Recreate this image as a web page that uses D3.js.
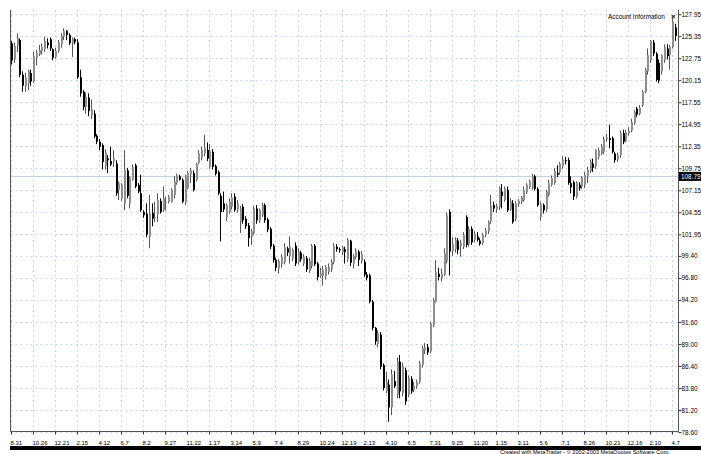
<!DOCTYPE html>
<html>
<head>
<meta charset="utf-8">
<script src="https://cdn.jsdelivr.net/npm/d3@7"></script>
<style>
  body { margin: 0; background: #fff; }
  text { font-family: "Liberation Sans", Arial, sans-serif; }
</style>
</head>
<body>
<script>
// weekly bars, values
const opens = [
  124.5,122.6,124.3,124.9,120.8,119.4,119.8,121.0,120.0,122.8,123.2,123.6,123.8,124.6,125.0,123.8,122.9,123.6,124.4,125.3,
  126.0,125.5,124.5,125.0,124.6,120.5,118.8,117.0,118.1,116.0,116.2,113.6,112.9,112.5,110.0,110.9,110.6,110.5,110.3,107.2,
  106.2,105.6,109.5,105.6,108.4,110.1,107.8,106.8,104.6,104.4,101.7,104.5,103.9,104.3,105.9,104.8,105.7,105.8,105.8,106.6,
  108.0,108.8,108.4,105.7,107.4,109.0,109.2,108.4,110.4,111.0,111.5,111.9,109.9,111.7,110.0,109.3,106.5,105.6,104.0,104.6,
  105.2,106.4,104.9,103.4,105.2,103.8,103.0,101.7,102.1,105.0,103.6,104.2,105.4,103.7,102.6,100.6,98.9,97.9,98.4,98.7,
  100.3,99.4,99.1,100.6,98.7,99.8,98.5,99.1,97.6,98.2,100.6,98.5,97.0,97.0,97.0,97.5,97.8,98.7,100.5,100.2,
  99.8,100.2,99.0,101.2,98.5,99.3,99.9,98.8,98.7,97.2,97.1,94.0,90.9,89.0,90.1,86.5,83.4,84.2,81.5,84.6,
  83.0,86.9,83.2,85.9,83.0,84.9,83.6,84.0,84.5,86.5,88.2,88.6,88.1,91.2,94.0,97.3,96.8,97.2,98.8,104.6,
  100.0,100.2,101.2,100.6,100.5,104.0,100.8,102.6,101.3,101.7,101.2,100.9,101.9,102.3,103.5,105.4,104.9,105.2,107.0,106.0,
  107.2,104.9,105.6,103.8,105.5,105.8,106.0,106.9,107.5,107.4,108.8,107.3,104.0,105.4,104.9,106.6,107.8,108.0,109.2,109.3,
  110.0,110.7,110.7,108.0,108.1,106.4,107.8,107.6,107.8,108.8,109.4,110.3,110.0,111.1,111.5,111.7,113.2,113.3,113.3,111.5,
  110.8,111.3,113.9,113.0,113.9,114.2,115.1,116.8,116.2,117.2,118.8,121.2,122.5,124.6,123.3,122.2,121.2,122.5,123.9,123.1,
  124.1,126.4
];
const highs = [
  124.8,124.6,125.7,125.1,121.2,121.0,121.4,121.4,123.5,123.7,124.3,124.5,125.3,125.1,125.2,123.9,124.0,124.9,125.7,126.3,
  126.1,125.7,125.2,125.2,125.0,121.4,119.0,118.7,118.6,117.9,116.6,113.8,113.2,112.7,112.0,111.3,112.3,111.9,110.7,108.2,
  108.0,111.9,109.8,108.8,110.2,110.3,108.0,109.0,104.8,105.6,106.6,105.6,105.8,106.8,106.2,107.6,106.4,106.6,107.4,108.8,
  109.1,109.0,108.6,109.0,109.4,109.8,109.5,110.4,111.9,112.3,113.7,112.8,112.6,112.0,110.2,109.5,106.8,107.0,105.6,106.2,
  106.8,106.8,106.0,105.3,105.5,104.1,103.3,102.6,105.3,105.4,105.0,105.7,105.6,103.9,102.8,100.8,99.2,99.0,99.6,100.9,
  100.5,101.7,100.3,101.0,100.3,100.0,99.6,99.4,99.2,100.8,100.8,98.7,98.0,98.2,98.3,98.5,99.0,100.9,100.8,100.4,
  100.6,100.5,101.5,101.3,99.6,100.3,100.1,100.0,99.0,97.5,97.3,94.2,91.0,90.6,90.4,86.7,85.7,84.8,86.0,85.8,
  87.4,87.7,86.8,86.2,85.3,85.2,84.5,84.8,87.0,88.8,89.1,89.0,91.6,94.4,98.9,98.0,97.9,100.3,104.5,104.9,
  101.6,101.6,101.5,101.3,102.2,104.2,102.9,102.9,102.3,102.2,101.5,102.1,102.7,103.6,106.6,105.8,105.6,107.6,107.9,107.6,
  107.6,106.2,106.0,105.9,106.1,106.5,107.6,108.0,108.4,109.1,109.0,107.5,105.8,105.6,107.2,108.4,108.9,109.8,110.1,110.5,
  111.2,111.1,111.0,108.8,108.3,108.2,108.1,108.8,109.3,109.9,110.8,110.9,112.0,112.2,112.6,113.5,113.8,114.9,113.5,111.7,
  111.6,114.2,114.3,114.3,114.6,115.6,116.6,117.0,117.2,119.0,121.6,123.9,124.9,124.9,123.5,122.6,123.2,124.4,124.4,124.3,
  127.5,126.8
];
const lows = [
  122.0,122.2,123.5,120.5,118.8,118.8,119.0,119.5,119.8,121.9,123.0,123.2,123.5,123.9,123.6,122.5,122.7,123.4,124.0,124.9,
  124.9,124.3,122.9,124.4,120.3,118.2,116.6,116.2,115.9,115.6,113.3,112.6,111.9,109.6,109.6,109.2,110.0,109.9,106.5,106.0,
  105.9,104.8,106.2,105.0,108.3,107.4,106.8,104.6,103.9,101.6,100.3,102.9,103.4,103.4,104.4,104.6,104.8,105.6,105.7,106.2,
  107.8,108.3,105.6,105.4,107.3,108.0,107.0,108.2,110.2,110.7,111.2,110.6,109.7,109.6,108.9,106.6,101.1,104.6,103.5,104.4,
  104.9,104.6,104.5,102.1,103.2,102.6,100.5,100.7,101.9,103.2,103.3,104.0,103.3,102.2,100.2,98.6,97.6,97.3,98.0,98.4,
  99.4,98.5,98.8,98.2,98.4,98.7,98.2,97.5,97.4,97.9,98.2,96.5,96.8,95.9,96.6,97.2,97.5,98.4,99.9,99.8,
  99.5,98.5,98.7,98.2,97.9,99.0,98.2,98.5,96.9,96.5,93.8,90.6,88.9,88.6,86.0,83.5,83.2,79.8,80.6,83.8,
  82.6,82.6,82.8,81.8,82.7,83.1,83.3,83.7,84.3,86.2,87.8,87.7,87.9,91.0,93.9,96.5,96.4,97.0,98.5,97.1,
  99.4,99.8,99.6,99.3,100.2,100.4,100.5,100.7,101.0,101.1,100.6,100.7,101.6,102.0,103.2,104.6,104.5,104.8,105.0,105.8,
  104.6,104.7,103.2,103.5,105.2,105.5,105.8,106.7,107.3,107.2,107.1,105.2,103.6,104.4,104.6,106.4,107.6,107.8,108.7,109.0,
  109.7,110.2,107.8,106.8,106.0,106.2,107.1,107.3,107.4,108.0,109.2,109.3,109.7,110.8,111.3,111.4,112.9,112.1,111.5,110.4,
  110.5,111.0,112.6,112.8,113.6,114.0,114.9,115.8,116.0,117.0,118.6,120.8,122.2,123.0,120.0,119.8,120.8,122.2,122.6,121.4,
  123.9,124.8
];
const closes = [
  122.5,124.2,125.1,120.8,119.5,120.5,121.2,120.0,123.0,123.4,123.7,124.1,124.8,124.3,123.9,122.8,123.6,124.6,125.4,126.0,
  125.5,124.5,125.0,124.7,120.5,118.6,117.0,118.2,116.5,116.7,113.5,112.9,112.3,110.5,111.6,110.7,110.2,110.9,106.8,108.0,
  107.8,109.6,106.5,108.6,109.9,107.6,107.0,104.8,104.2,101.9,104.4,103.8,104.0,106.0,104.6,106.2,105.8,106.4,107.2,108.2,
  108.9,108.4,105.8,108.9,109.2,109.5,107.2,110.2,111.5,111.9,112.1,110.9,111.8,109.9,109.1,106.8,104.6,104.9,105.4,105.8,
  106.3,104.8,105.6,105.0,103.6,102.9,101.5,102.3,105.0,103.6,104.8,105.4,103.6,102.5,100.5,98.9,98.0,98.8,99.3,100.4,
  99.8,100.5,100.1,98.5,99.9,99.0,99.3,97.8,98.8,100.6,98.4,96.9,97.4,97.8,98.1,98.1,98.7,100.6,100.2,100.1,
  100.4,99.9,101.3,98.6,99.4,100.0,98.9,99.6,97.2,96.8,94.0,90.9,89.3,90.3,86.3,83.8,84.5,81.5,85.4,84.0,
  86.9,83.4,86.4,82.2,85.0,83.4,84.1,84.5,86.7,88.5,88.6,88.0,91.4,94.2,97.5,96.9,97.3,99.7,104.2,99.9,
  100.8,101.3,100.1,101.0,101.9,100.7,102.6,101.0,102.0,101.3,100.8,101.9,102.4,103.4,105.4,105.0,105.3,107.4,106.5,107.4,
  104.8,105.8,103.4,105.6,105.9,106.3,107.2,107.8,108.2,108.8,107.3,105.4,105.5,104.8,107.0,108.0,108.6,109.4,109.0,110.3,
  110.8,110.6,108.0,107.5,106.4,108.0,107.4,108.6,109.0,109.6,110.5,109.8,111.9,111.9,112.3,113.2,113.4,113.1,111.7,110.7,
  111.3,113.9,112.9,114.0,114.2,115.2,116.4,116.1,116.9,118.8,121.4,123.1,124.8,123.3,120.2,120.1,123.1,124.1,123.0,124.1,
  127.1,125.4
];
const xTickLabels = ["8.31", "10.26", "12.21", "2.15", "4.12", "6.7", "8.2", "9.27", "11.22", "1.17",
  "3.14", "5.9", "7.4", "8.29", "10.24", "12.19", "2.13", "4.10", "6.5", "7.31",
  "9.25", "11.20", "1.15", "3.11", "5.6", "7.1", "8.26", "10.21", "12.16", "2.10", "4.7"];
const barsPerLabel = 8;
const priceTicks = [127.95, 125.35, 122.75, 120.15, 117.55, 114.95, 112.35, 109.75, 107.15, 104.55,
  101.95, 99.40, 96.80, 94.20, 91.60, 89.00, 86.40, 83.80, 81.20, 78.60];
const bidPrice = 108.79;

const width = 701, height = 454;
const plotLeft = 10.5, plotRight = 678.5, plotTop = 10, plotBottom = 431.5;
const gridColor = "#c9d4e6";

const svg = d3.select("body").append("svg")
  .attr("width", width)
  .attr("height", height);

const bars = d3.range(closes.length);
const x = d3.scaleLinear().domain([0, closes.length - 1]).range([11, 675]);
const y = d3.scaleLinear().domain([78.60, 127.95]).range([432, 14.2]);
const xTickIndex = xTickLabels.map(function(d, i) { return i * barsPerLabel; });

// grid
svg.append("g").selectAll("line").data(priceTicks).join("line")
  .attr("x1", plotLeft).attr("x2", plotRight)
  .attr("y1", function(d) { return Math.round(y(d)) + 0.5; })
  .attr("y2", function(d) { return Math.round(y(d)) + 0.5; })
  .attr("stroke", gridColor)
  .attr("stroke-dasharray", "2,3");

svg.append("g").selectAll("line").data(xTickIndex).join("line")
  .attr("x1", function(d) { return Math.round(x(d)) + 0.5; })
  .attr("x2", function(d) { return Math.round(x(d)) + 0.5; })
  .attr("y1", plotTop).attr("y2", plotBottom)
  .attr("stroke", gridColor)
  .attr("stroke-dasharray", "2,3");

// bid line
svg.append("line")
  .attr("x1", plotLeft).attr("x2", plotRight)
  .attr("y1", Math.round(y(bidPrice)) + 0.5).attr("y2", Math.round(y(bidPrice)) + 0.5)
  .attr("stroke", "#c4cfe2");

// candles
function isUp(i) { return closes[i] >= opens[i]; }

svg.append("g").selectAll("line").data(bars).join("line")
  .attr("x1", function(i) { return Math.round(x(i)) + 0.5; })
  .attr("x2", function(i) { return Math.round(x(i)) + 0.5; })
  .attr("y1", function(i) { return y(highs[i]); })
  .attr("y2", function(i) { return y(lows[i]); })
  .attr("stroke", function(i) { return isUp(i) ? "#555" : "#000"; });

svg.append("g").selectAll("rect").data(bars).join("rect")
  .attr("x", function(i) { return Math.round(x(i)); })
  .attr("width", 2)
  .attr("y", function(i) { return y(Math.max(opens[i], closes[i])); })
  .attr("height", function(i) { return Math.max(1, Math.abs(y(opens[i]) - y(closes[i]))); })
  .attr("fill", function(i) { return isUp(i) ? "#8e8e8e" : "#000"; });

// axes
const yAxis = d3.axisRight(y)
  .tickValues(priceTicks)
  .tickFormat(d3.format(".2f"))
  .tickSize(3)
  .tickPadding(0);

const yAxisG = svg.append("g")
  .attr("transform", "translate(" + plotRight + ",0)")
  .call(yAxis);
yAxisG.select(".domain").remove();
yAxisG.selectAll("line").attr("stroke", "#333");
yAxisG.selectAll("text")
  .attr("font-family", "Liberation Sans, Arial, sans-serif")
  .attr("font-size", "6.4px")
  .attr("fill", "#000");

const xAxis = d3.axisBottom(x)
  .tickValues(xTickIndex)
  .tickFormat(function(d, i) { return xTickLabels[i]; })
  .tickSize(3)
  .tickPadding(6);

const xAxisG = svg.append("g")
  .attr("transform", "translate(0," + plotBottom + ")")
  .call(xAxis);
xAxisG.select(".domain").remove();
xAxisG.selectAll(".tick").attr("transform", function(d) {
  return "translate(" + (Math.round(x(d)) + 0.5) + ",0)";
});
xAxisG.selectAll("line").attr("stroke", "#333");
xAxisG.selectAll("text")
  .attr("text-anchor", "start")
  .attr("x", -1)
  .attr("font-family", "Liberation Sans, Arial, sans-serif")
  .attr("font-size", "6px")
  .attr("fill", "#000");

// frame
svg.append("path")
  .attr("d", "M" + plotLeft + "," + plotTop + "V" + plotBottom + "H" + plotRight + "V" + plotTop)
  .attr("fill", "none")
  .attr("stroke", "#555");

// bid label
svg.append("rect")
  .attr("x", 679).attr("y", y(bidPrice) - 4.5)
  .attr("width", 22).attr("height", 9)
  .attr("fill", "#000");
svg.append("text")
  .attr("x", 681).attr("y", y(bidPrice))
  .attr("dy", "0.35em")
  .attr("font-size", "6.4px")
  .attr("fill", "#fff")
  .text(d3.format(".2f")(bidPrice));

// account box caption
svg.append("text")
  .attr("x", 608).attr("y", 18.5)
  .attr("font-size", "6.4px")
  .attr("fill", "#000")
  .text("Account Information");
svg.append("text")
  .attr("x", 671).attr("y", 19)
  .attr("font-size", "8px")
  .attr("font-weight", "bold")
  .attr("fill", "#000")
  .text("×");

// footer
svg.append("rect")
  .attr("x", 10).attr("y", 446)
  .attr("width", width - 10).attr("height", 4)
  .attr("fill", "#000");
svg.append("text")
  .attr("x", 500).attr("y", 453.5)
  .attr("font-size", "5.6px")
  .attr("fill", "#000")
  .text("Created with MetaTrader - © 2002-2003 MetaQuotes Software Corp.");
</script>
</body>
</html>
